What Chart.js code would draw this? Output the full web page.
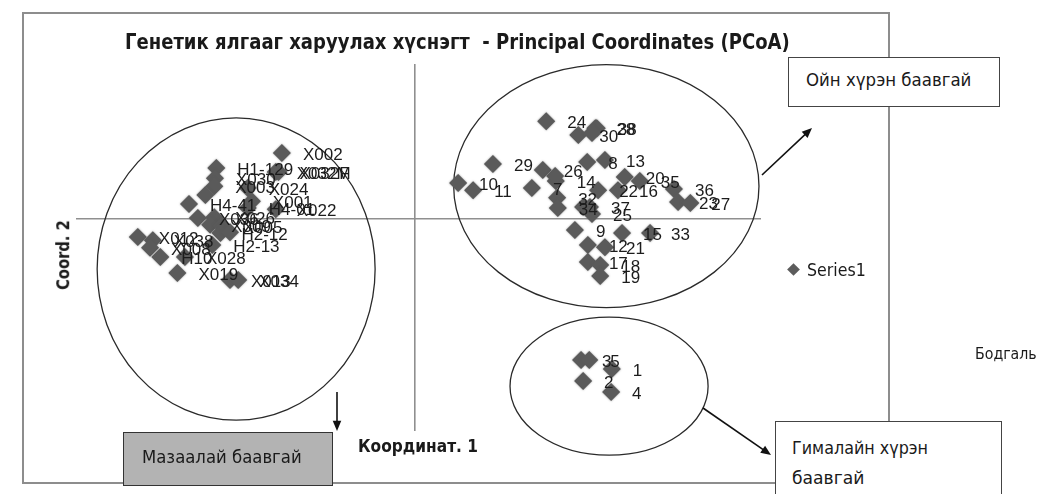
<!DOCTYPE html>
<html>
<head>
<meta charset="utf-8">
<script src="https://cdn.jsdelivr.net/npm/chart.js@4.4.0/dist/chart.umd.min.js"></script>
<style>
html, body { margin: 0; padding: 0; background: #fff; width: 1060px; height: 494px; overflow: hidden; }
#wrap { position: relative; width: 1060px; height: 494px; }
#frame { position: absolute; left: 22px; top: 12px; width: 868px; height: 472px; border: 2px solid #8d8d8d; box-sizing: border-box; }
canvas { position: absolute; left: 0; top: 0; }
.box { position: absolute; background: #fff; border: 1.5px solid #444; box-sizing: border-box; }
.t { position: absolute; white-space: nowrap; color: #1a1a1a; line-height: 1.2;
     font-family: "Liberation Sans Narrow", "DejaVu Sans Condensed", "Liberation Sans", sans-serif;
     transform-origin: 0 50%; }
.b { font-weight: bold; }
</style>
</head>
<body>
<div id="wrap">
  <div id="frame"></div>
  <canvas id="pcoa" width="1060" height="494"></canvas>

  <div class="t b" style="left:125px;top:42px;font-size:22px" data-w="665">Генетик ялгааг харуулах хүснэгт&nbsp; - Principal Coordinates (PCoA)</div>
  <div class="t b" style="left:358px;top:446px;font-size:18px" data-w="120">Координат. 1</div>
  <div class="t b" style="left:63px;top:255px;font-size:18px" data-w="70" data-rot="1">Coord. 2</div>

  <div class="box" style="left:788px;top:57px;width:212px;height:50px"></div>
  <div class="t" style="left:806px;top:80px;font-size:18px" data-w="165">Ойн хүрэн баавгай</div>

  <div class="box" style="left:123px;top:432px;width:210px;height:54px;background:#b3b3b3;border-color:#333"></div>
  <div class="t" style="left:142px;top:457px;font-size:18px" data-w="160">Мазаалай баавгай</div>

  <div class="box" style="left:775px;top:421px;width:227px;height:90px"></div>
  <div class="t" style="left:792px;top:448px;font-size:18px" data-w="136">Гималайн хүрэн</div>
  <div class="t" style="left:792px;top:478px;font-size:18px" data-w="72">баавгай</div>

  <div style="position:absolute;left:789px;top:265px;width:9px;height:9px;background:#5c5c5c;transform:rotate(45deg)"></div>
  <div class="t" style="left:807px;top:270px;font-size:17px" data-w="59">Series1</div>
  <div class="t" style="left:975px;top:354px;font-size:16px" data-w="62">Бодгаль</div>
</div>
<script>
// PCoA scores
const pointLabels = [
  'X002', 'H1-129', 'X032M', 'X032F', 'X030', 'X003', 'X024', 'H4-41', 'X001', 'H4-01',
  'X022', 'X036', 'X026', 'X009', 'X005', 'H2-12', 'H2-13', 'X012', 'X038', 'X008',
  'H10', 'X028', 'X019', 'X013', 'X034', '', '',
  '24', '30', '28', '38', '', '29', '10', '11', '7', '26',
  '14', '', '8', '13', '22', '16', '20', '35', '36', '23',
  '27', '32', '34', '', '37', '25', '9', '12', '21', '15',
  '33', '17', '18', '19',
  '3', '5', '2', '1', '4'
];
const coord1 = [
  -0.195, -0.291, -0.204, -0.200, -0.293, -0.294, -0.245, -0.331, -0.239, -0.245,
  -0.204, -0.318, -0.294, -0.300, -0.283, -0.285, -0.297, -0.406, -0.384, -0.388,
  -0.373, -0.337, -0.348, -0.271, -0.259, -0.307, -0.271,
  0.192, 0.239, 0.264, 0.266, 0.259, 0.114, 0.063, 0.085, 0.171, 0.187,
  0.206, 0.205, 0.252, 0.278, 0.268, 0.297, 0.307, 0.329, 0.379, 0.385,
  0.403, 0.208, 0.209, 0.246, 0.256, 0.259, 0.234, 0.253, 0.278, 0.303,
  0.344, 0.253, 0.271, 0.271,
  0.243, 0.255, 0.246, 0.288, 0.287
];
const coord2 = [
  0.181, 0.140, 0.129, 0.129, 0.112, 0.090, 0.085, 0.041, 0.049, 0.030,
  0.027, 0.003, 0.005, -0.016, -0.019, -0.038, -0.071, -0.049, -0.058, -0.079,
  -0.104, -0.104, -0.148, -0.167, -0.167, 0.066, -0.036,
  0.268, 0.230, 0.249, 0.249, 0.236, 0.151, 0.099, 0.079, 0.085, 0.134,
  0.104, 0.118, 0.156, 0.162, 0.079, 0.079, 0.115, 0.104, 0.082, 0.047,
  0.044, 0.058, 0.030, 0.033, 0.033, 0.014, -0.030, -0.071, -0.077, -0.038,
  -0.038, -0.118, -0.126, -0.156,
  -0.386, -0.386, -0.444, -0.411, -0.474
];

// hand-drawn group rings (data units)
const groupRings = [
  { cx: -0.262, cy: -0.137, rx: 0.2035, ry: 0.414 },
  { cx: 0.280, cy: 0.090, rx: 0.2235, ry: 0.333 },
  { cx: 0.284, cy: -0.458, rx: 0.145, ry: 0.189 }
];
// arrows from rings to the name boxes (page pixels)
const arrows = [
  [762, 175, 812, 128],
  [337, 392, 337, 431],
  [703, 408, 771, 455]
];

const annotations = {
  id: 'annotations',
  beforeDatasetsDraw(chart) {
    const ctx = chart.ctx, x = chart.scales.x, y = chart.scales.y;
    ctx.save();
    ctx.strokeStyle = '#2a2a2a';
    ctx.lineWidth = 1.3;
    groupRings.forEach(function (r) {
      const cx = x.getPixelForValue(r.cx), cy = y.getPixelForValue(r.cy);
      const rx = Math.abs(x.getPixelForValue(r.cx + r.rx) - cx);
      const ry = Math.abs(y.getPixelForValue(r.cy + r.ry) - cy);
      ctx.beginPath();
      ctx.ellipse(cx, cy, rx, ry, 0, 0, Math.PI * 2);
      ctx.stroke();
    });
    ctx.restore();
  },
  beforeDatasetDraw(chart) {
    chart.ctx.save();
    chart.ctx.shadowColor = 'rgba(90,90,90,0.7)';
    chart.ctx.shadowBlur = 2;
  },
  afterDatasetDraw(chart) {
    chart.ctx.restore();
  },
  afterDatasetsDraw(chart) {
    const ctx = chart.ctx;
    const meta = chart.getDatasetMeta(0);
    ctx.save();
    ctx.font = '17px "Liberation Sans", Arial, sans-serif';
    ctx.fillStyle = '#1c1c1c';
    ctx.textBaseline = 'middle';
    meta.data.forEach(function (pt, i) {
      if (pointLabels[i]) ctx.fillText(pointLabels[i], pt.x + 21, pt.y + 2);
    });
    ctx.strokeStyle = '#111';
    ctx.fillStyle = '#111';
    ctx.lineWidth = 1.6;
    arrows.forEach(function (a) {
      const ang = Math.atan2(a[3] - a[1], a[2] - a[0]);
      ctx.beginPath();
      ctx.moveTo(a[0], a[1]);
      ctx.lineTo(a[2] - Math.cos(ang) * 6, a[3] - Math.sin(ang) * 6);
      ctx.stroke();
      ctx.beginPath();
      ctx.moveTo(a[2], a[3]);
      ctx.lineTo(a[2] - Math.cos(ang - 0.4) * 11, a[3] - Math.sin(ang - 0.4) * 11);
      ctx.lineTo(a[2] - Math.cos(ang + 0.4) * 11, a[3] - Math.sin(ang + 0.4) * 11);
      ctx.closePath();
      ctx.fill();
    });
    ctx.restore();
  }
};

new Chart(document.getElementById('pcoa'), {
  type: 'scatter',
  data: {
    datasets: [{
      label: 'Series1',
      data: coord1.map(function (v, i) { return { x: v, y: coord2[i] }; }),
      pointStyle: 'rectRot',
      radius: 9,
      hoverRadius: 9,
      backgroundColor: '#5a5a5a',
      borderColor: '#5a5a5a',
      borderWidth: 0,
      clip: false
    }]
  },
  options: {
    responsive: false,
    animation: false,
    events: [],
    layout: { padding: { left: 77, top: 65, right: 300, bottom: 64 } },
    plugins: { legend: { display: false }, tooltip: { enabled: false } },
    scales: {
      x: {
        type: 'linear', min: -0.495, max: 0.505, position: { y: 0 },
        ticks: { display: false },
        grid: { display: false, drawTicks: false },
        border: { color: '#8f8f8f', width: 1.6 }
      },
      y: {
        type: 'linear', min: -0.578, max: 0.422, position: { x: 0 },
        ticks: { display: false },
        grid: { display: false, drawTicks: false },
        border: { color: '#8f8f8f', width: 1.6 }
      }
    }
  },
  plugins: [annotations]
});

document.querySelectorAll('.t').forEach(function (el) {
  const s = (+el.dataset.w) / el.offsetWidth;
  if (el.dataset.rot) {
    el.style.transformOrigin = '50% 50%';
    el.style.transform = 'translate(-50%,-50%) rotate(-90deg) scaleX(' + s + ')';
  } else {
    el.style.transform = 'translateY(-50%) scaleX(' + s + ')';
  }
});
</script>
</body>
</html>
